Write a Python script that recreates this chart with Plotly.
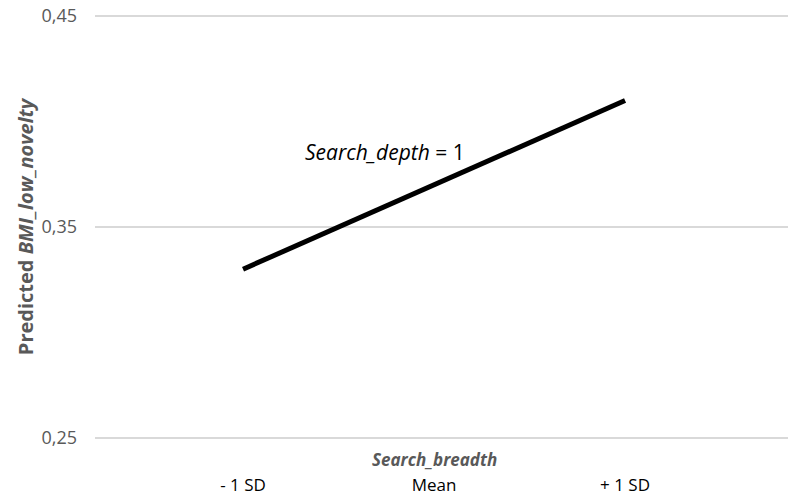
import plotly.graph_objects as go

categories = ["- 1 SD", "Mean", "+ 1 SD"]
x_positions = [0, 2]
predicted = [0.33, 0.41]
y_ticks = [0.25, 0.35, 0.45]
y_tick_labels = ["0,25", "0,35", "0,45"]

FONT = "Open Sans"
GRAY = "#595959"

fig = go.Figure()
fig.add_trace(go.Scatter(
    x=x_positions, y=predicted, mode="lines",
    line=dict(color="black", width=5),
    showlegend=False, hoverinfo="skip",
))

fig.update_layout(
    width=788, height=497,
    margin=dict(l=95, r=0, t=15, b=58, autoexpand=False),
    paper_bgcolor="white", plot_bgcolor="white",
    font=dict(family=FONT, color=GRAY),
    xaxis=dict(
        range=[-0.775, 2.853],
        tickvals=[0, 1, 2], ticktext=categories,
        tickfont=dict(family=FONT, size=17, color="black"),
        showgrid=False, zeroline=False, showline=False,
        ticks="", ticklabelstandoff=34, automargin=False,
    ),
    yaxis=dict(
        range=[0.2495, 0.4505],
        tickvals=y_ticks, ticktext=y_tick_labels,
        tickfont=dict(family=FONT, size=18, color=GRAY),
        showgrid=True, gridcolor="#d9d9d9", gridwidth=1.5,
        zeroline=False, showline=False, ticks="",
        ticklabelstandoff=17, automargin=False,
        title=dict(
            text="<b>Predicted <i>BMI_low_novelty</i></b>",
            font=dict(family=FONT, size=20, color=GRAY),
            standoff=2,
        ),
    ),
    annotations=[
        dict(
            text="<b><i>Search_breadth</i></b>",
            xref="x", yref="paper", x=1, y=0, yshift=-20,
            xanchor="center", yanchor="middle", showarrow=False,
            font=dict(family=FONT, size=17, color=GRAY),
        ),
        dict(
            text="<i>Search_depth</i> = 1",
            xref="x", yref="y", x=0.745, y=0.3855,
            xanchor="center", yanchor="middle", showarrow=False,
            font=dict(family=FONT, size=21, color="black"),
        ),
    ],
)

fig.write_html(
    "out.html",
    config={"displayModeBar": False},
    post_script="document.body.style.margin='0';document.body.style.overflow='hidden';",
)
